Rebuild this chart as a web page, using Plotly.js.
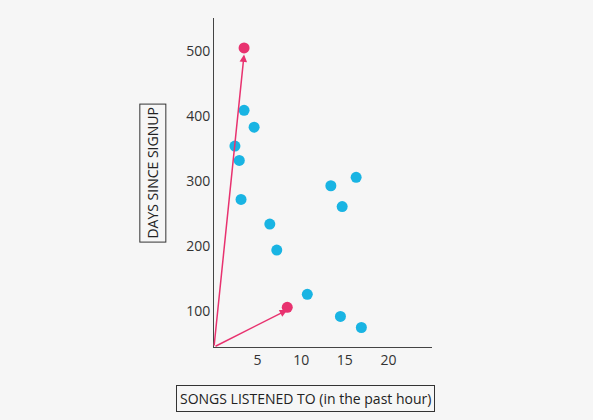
<!DOCTYPE html>
<html><head><meta charset="utf-8">
<script src="https://cdn.plot.ly/plotly-3.0.1.min.js"></script>
<style>body{margin:0;background:#f6f6f6}</style>
</head><body>
<div id="chart" style="width:593px;height:420px"></div>
<script>
// blue users
var songsBlue = [3.45, 4.6, 2.4, 2.9, 3.1, 6.4, 7.2, 13.4, 16.3, 14.7, 10.7, 14.5, 16.9];
var daysBlue = [409, 383, 354, 332, 272, 234, 194, 293, 306, 261, 126, 92, 75];
// highlighted users
var songsPink = [3.45, 8.4];
var daysPink = [505, 106];
var xTicks = [5, 10, 15, 20];
var yTicks = [100, 200, 300, 400, 500];
var origin = [0, 45];

var data = [
  {x: songsBlue, y: daysBlue, mode: 'markers', type: 'scatter',
   marker: {color: '#19b4e3', size: 11}},
  {x: songsPink, y: daysPink, mode: 'markers', type: 'scatter',
   marker: {color: '#e8326f', size: 11}}
];

var arrows = songsPink.map(function (sx, i) {
  return {x: sx, y: daysPink[i] - (i === 0 ? 10 : 4), ax: origin[0], ay: origin[1],
    xref: 'x', yref: 'y', axref: 'x', ayref: 'y', text: '', showarrow: true,
    arrowhead: 2, arrowsize: 1, arrowwidth: 1.5, arrowcolor: '#e8326f'};
});
arrows.push({xref: 'paper', yref: 'paper', x: 0.42, y: -0.115, xanchor: 'center', yanchor: 'top',
  text: 'SONGS LISTENED TO (in the past hour)', showarrow: false,
  font: {size: 14, color: '#222'}, bordercolor: '#333', borderwidth: 1, borderpad: 3});
arrows.push({xref: 'paper', yref: 'paper', x: -0.28, y: 0.53, xanchor: 'center', yanchor: 'middle',
  textangle: -90, text: 'DAYS SINCE SIGNUP', showarrow: false,
  font: {size: 14, color: '#222'}, bordercolor: '#333', borderwidth: 1, borderpad: 3});

var layout = {
  width: 593, height: 420,
  margin: {l: 214, r: 161, t: 18, b: 73},
  paper_bgcolor: '#f6f6f6', plot_bgcolor: 'rgba(0,0,0,0)',
  showlegend: false,
  font: {family: 'Open Sans', size: 14, color: '#333'},
  xaxis: {range: [0, 25], tickvals: xTicks, showgrid: false, zeroline: false,
    showline: true, linecolor: '#444', linewidth: 1, ticks: ''},
  yaxis: {range: [45, 551], tickvals: yTicks, showgrid: false, zeroline: false,
    showline: true, linecolor: '#444', linewidth: 1, ticks: ''},
  annotations: arrows
};
Plotly.newPlot('chart', data, layout, {displayModeBar: false});
</script>
</body></html>
